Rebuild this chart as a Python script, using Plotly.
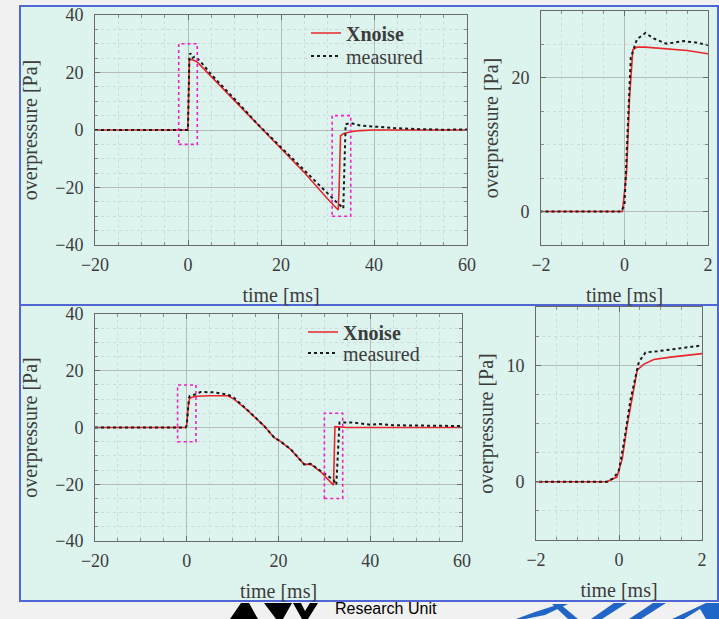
import plotly.graph_objects as go

# ---------------- data ----------------
# top row: N-wave case
t_top_xnoise = [-20, -0.05, 0.05, 0.12, 0.2, 0.3, 0.5, 1.0, 1.5, 2.0, 5, 10, 15, 20, 25, 30,
                32.3, 32.5, 32.8, 33.5, 35, 37, 40, 50, 60]
p_top_xnoise = [0, 0, 6, 17, 24.2, 24.6, 24.6, 24.4, 24.1, 23.6, 18.6, 10.2, 1.6, -6.6, -14.8, -23.9,
                -27.8, -20, -2.0, -1.2, -0.6, -0.2, 0, 0, 0]
t_top_meas = [-20, -0.08, 0.0, 0.08, 0.15, 0.3, 0.5, 0.7, 1.0, 1.4, 1.7, 2.0, 3, 5, 10, 15, 20, 25,
              30, 31, 32, 33, 33.4, 33.6, 33.9, 35, 37, 40, 45, 50, 55, 60]
p_top_meas = [0, 0, 1, 12, 23, 25.8, 26.7, 25.9, 25.1, 25.5, 25.3, 24.9, 23.2, 19.3, 10.8, 2.0, -6.0, -14.0,
              -22.2, -23.8, -25.2, -26.6, -27.3, -15, 2.0, 2.4, 1.6, 1.2, 0.6, 0.3, 0.1, 0.2]

# bottom row: shaped signature
t_bot_xnoise = [-20, -0.3, -0.05, 0.08, 0.2, 0.32, 0.44, 0.6, 0.84, 1.24, 2, 5, 8.9, 10.3, 13.2, 16.9,
                19, 20.5, 22.7, 25.6, 27, 29.2, 32, 32.3, 33, 35, 60]
p_bot_xnoise = [0, 0, 0.4, 2, 4.9, 7.4, 9.6, 10.1, 10.5, 10.7, 11, 11.2, 11.2, 10, 6.1, 0.5,
                -3.5, -5, -7.8, -13, -12.9, -15.6, -20.3, 0.3, 0.2, 0, 0]
t_bot_meas = [-20, -0.28, -0.12, 0, 0.12, 0.28, 0.48, 0.64, 0.92, 1.4, 2, 3, 6, 9, 10.3, 13.2, 16.9,
              19, 20.5, 22.7, 25.6, 27, 29.2, 32, 32.6, 32.9, 33.3, 36, 38, 40, 42, 45, 50, 60]
p_bot_meas = [0, 0, 0.34, 1, 3.4, 7.1, 10.3, 11.1, 11.2, 11.4, 11.7, 12.5, 12.4, 11.6, 10.5, 6.2, 0.5,
              -3.4, -5, -7.7, -13, -12.8, -15.3, -18.5, -20.2, -8, 1.8, 1.8, 1.4, 1.0, 1.2, 0.8, 0.7, 0.5]

# highlighted windows [t0, t1, p0, p1]
top_windows = [[-2, 2, -5, 30], [31, 35, -30, 5]]
bot_windows = [[-2, 2, -5, 15], [30, 34, -25, 5]]

series_names = ["<b>Xnoise</b>", "measured"]
x_title = "time [ms]"
y_title = "overpressure [Pa]"

# ---------------- style ----------------
W, H = 719, 619
SERIF = "Liberation Serif, DejaVu Serif, serif"
MINT = "#ddf3ee"
BLUE = "#4f66d4"
RED = "#e8262b"
TXT = "#3c3c3c"


def px(x, y):
    return x / W, 1 - y / H


def dom_x(a, b):
    return [a / W, b / W]


def dom_y(top, bottom):
    return [1 - bottom / H, 1 - top / H]


def axis(domain, rng, dtick, mdtick, anchor, title, standoff, lblgap):
    return dict(
        domain=domain, range=rng, anchor=anchor, tickmode="linear", tick0=0, dtick=dtick,
        automargin=False, ticklabelstandoff=lblgap,
        showline=True, mirror="allticks", linecolor="#6a6a6a", linewidth=1,
        ticks="inside", ticklen=5, tickcolor="#6a6a6a", tickwidth=1,
        showgrid=True, gridcolor="#b4bcba", gridwidth=1, zeroline=False,
        minor=dict(tick0=0, dtick=mdtick, ticks="inside", ticklen=3, tickcolor="#8a8a8a",
                   showgrid=True, gridcolor="#ccdcd8", griddash="dot", gridwidth=1),
        tickfont=dict(family=SERIF, size=18, color=TXT),
        title=dict(text=title, font=dict(family=SERIF, size=20, color=TXT), standoff=standoff),
        fixedrange=True,
    )


def xax(domain, rng, dtick, mdtick, anchor):
    return axis(domain, rng, dtick, mdtick, anchor, x_title, 14, 3)


def yax(domain, rng, dtick, mdtick, anchor, standoff=12):
    return axis(domain, rng, dtick, mdtick, anchor, y_title, standoff, 7)


fig = go.Figure()

# (xaxis, yaxis, data..., legend for Xnoise, legend for measured, show legend)
panels = [
    ("x", "y", t_top_xnoise, p_top_xnoise, t_top_meas, p_top_meas, "legend", "legend2", True),
    ("x2", "y2", t_top_xnoise, p_top_xnoise, t_top_meas, p_top_meas, "legend", "legend2", False),
    ("x3", "y3", t_bot_xnoise, p_bot_xnoise, t_bot_meas, p_bot_meas, "legend3", "legend4", True),
    ("x4", "y4", t_bot_xnoise, p_bot_xnoise, t_bot_meas, p_bot_meas, "legend3", "legend4", False),
]
for xa, ya, tx, px_, tm, pm, leg_a, leg_b, show in panels:
    fig.add_trace(go.Scatter(x=tx, y=px_, xaxis=xa, yaxis=ya, mode="lines", name=series_names[0],
                             line=dict(color=RED, width=1.6), legend=leg_a, showlegend=show,
                             cliponaxis=True))
    fig.add_trace(go.Scatter(x=tm, y=pm, xaxis=xa, yaxis=ya, mode="lines", name=series_names[1],
                             line=dict(color="#1a1a1a", width=2, dash="dot"), legend=leg_b,
                             showlegend=show, cliponaxis=True))

shapes = []
# panel frames (mint boxes with blue border)
for top, bottom in [(6, 305), (305, 601)]:
    x0, y1 = px(20, top)
    x1, y0 = px(718, bottom)
    shapes.append(dict(type="rect", xref="paper", yref="paper", x0=x0, x1=x1, y0=y0, y1=y1,
                       fillcolor=MINT, line=dict(color=BLUE, width=2), layer="below"))

# highlighted windows on the overview plots
for wins, xr, yr in [(top_windows, "x", "y"), (bot_windows, "x3", "y3")]:
    for t0, t1, p0, p1 in wins:
        shapes.append(dict(type="rect", xref=xr, yref=yr, x0=t0, x1=t1, y0=p0, y1=p1,
                           line=dict(color="#f01fc8", width=1.6, dash="dot"), layer="above"))


def poly(points, color):
    d = ""
    for i, (x, y) in enumerate(points):
        a, b = px(x, y)
        d += ("M" if i == 0 else "L") + f"{a:.5f},{b:.5f} "
    return dict(type="path", xref="paper", yref="paper", path=d + "Z",
                fillcolor=color, line=dict(width=0), layer="above")


# decorative logo fragments below the panels
shapes += [
    poly([(241, 603), (249, 603), (258, 619), (230, 619)], "black"),
    poly([(264, 603), (292, 603), (283, 619), (276, 619)], "black"),
    poly([(293, 603), (301, 603), (305, 611), (310, 603), (318, 603), (308, 619), (302, 619)], "black"),
    poly([(516, 619), (535, 612), (560, 604), (568, 604), (545, 615), (525, 619)], "#2166c6"),
    poly([(552, 604), (560, 604), (578, 619), (568, 619)], "#2166c6"),
    poly([(591, 619), (602, 619), (627, 603), (614, 603)], "#2166c6"),
    poly([(629, 619), (641, 619), (666, 603), (653, 603)], "#2166c6"),
    poly([(672, 619), (684, 619), (700, 609), (706, 619), (719, 619), (719, 603), (706, 603)], "#2166c6"),
]

annotations = [
    dict(text="Research Unit", xref="paper", yref="paper", x=333 / W, y=0,
         xanchor="left", yanchor="bottom", showarrow=False,
         font=dict(family="Liberation Sans Narrow, Liberation Sans, Arial", size=16, color="black")),
]

legend_style = dict(xanchor="left", yanchor="middle", bgcolor="rgba(0,0,0,0)", borderwidth=0,
                    font=dict(family=SERIF, size=20, color=TXT), tracegroupgap=0,
                    itemwidth=30, traceorder="normal")

fig.update_layout(
    template="none",
    width=W, height=H, margin=dict(l=0, r=0, t=0, b=0, autoexpand=False),
    paper_bgcolor="#f1f1f1", plot_bgcolor=MINT,
    xaxis=xax(dom_x(95, 467), [-20, 60], 20, 5, "y"),
    yaxis=yax(dom_y(15, 245), [-40, 40], 20, 5, "x"),
    xaxis2=xax(dom_x(541, 708), top_windows[0][0:2], 2, 0.5, "y2"),
    yaxis2=yax(dom_y(11, 245), top_windows[0][2:4], 20, 5, "x2", standoff=7),
    xaxis3=xax(dom_x(95, 462), [-20, 60], 20, 5, "y3"),
    yaxis3=yax(dom_y(314, 541), [-40, 40], 20, 5, "x3"),
    xaxis4=xax(dom_x(536, 702), bot_windows[0][0:2], 2, 0.5, "y4"),
    yaxis4=yax(dom_y(307, 540), bot_windows[0][2:4], 10, 2.5, "x4", standoff=7),
    legend=dict(x=306 / W, y=1 - 33 / H, **legend_style),
    legend2=dict(x=306 / W, y=1 - 56 / H, **legend_style),
    legend3=dict(x=303 / W, y=1 - 332 / H, **legend_style),
    legend4=dict(x=303 / W, y=1 - 353 / H, **legend_style),
    shapes=shapes, annotations=annotations, showlegend=True,
)

fig.write_html("out.html")
